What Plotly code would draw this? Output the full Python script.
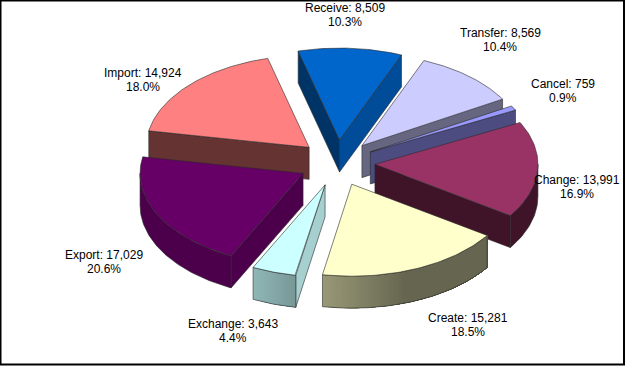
import math
import plotly.graph_objects as go

# --- data ---
categories = ["Receive", "Transfer", "Cancel", "Change", "Create", "Exchange", "Export", "Import"]
values = [8509, 8569, 759, 13991, 15281, 3643, 17029, 14924]

# --- styles ---
top_colors = ["#0066CC", "#CCCCFF", "#9999FF", "#993366", "#FFFFCC", "#CCFFFF", "#660066", "#FF8080"]
wall_left = ["#004C99", "#666680", "#4C4C80", "#3F1428", "#9A9A78", "#90B8B8", "#4C004C", "#663333"]
wall_right = ["#004C99", "#666680", "#4C4C80", "#3F1428", "#666650", "#7A9999", "#4C004C", "#663333"]
gradient_span = [1, 1, 1, 1, 0.45, 1, 1, 1]
start_face = ["#003366", "#666680", "#4C4C80", "#3F1428", "#666650", "#A6D0D0", "#4C004C", "#663333"]
end_face = ["#004C99", "#666680", "#4C4C80", "#3F1428", "#666650", "#A6D0D0", "#4C004C", "#663333"]
draw_order = [0, 1, 2, 3, 7, 4, 5, 6]
label_x = [345, 500, 563, 577, 468, 233, 104, 143]
label_y = [15, 40, 91, 187, 325, 331, 262, 80]

# --- pie geometry (pixel-scale axes) ---
W, H = 633, 373
CX, CY = 337, 163
RX, RY = 163, 92
EX, EY = 38, 23
DEPTH = 32
START = 255.3
EDGE = "#2A2A2A"

total = sum(values)
fig = go.Figure()


def poly(xs, ys, fill, line=EDGE, width=0.6):
    fig.add_trace(go.Scatter(
        x=list(xs) + [xs[0]], y=list(ys) + [ys[0]], mode="lines", fill="toself",
        fillcolor=fill, line=dict(color=line, width=width), hoverinfo="skip", showlegend=False))


def mix(c1, c2, f):
    a = [int(c1[i:i + 2], 16) for i in (1, 3, 5)]
    b = [int(c2[i:i + 2], 16) for i in (1, 3, 5)]
    return "#%02X%02X%02X" % tuple(round(p + (q - p) * f) for p, q in zip(a, b))


spans = []
angle = START
for v in values:
    sweep = v / total * 360
    spans.append((angle, angle + sweep))
    angle += sweep

for i in draw_order:
    t0, t1 = spans[i]
    mid = math.radians((t0 + t1) / 2)
    ax, ay = CX + EX * math.cos(mid), CY + EY * math.sin(mid)

    def pt(t):
        r = math.radians(t)
        return ax + RX * math.cos(r), ay + RY * math.sin(r)

    def face(t, color):
        x, y = pt(t)
        poly([ax, x, x, ax], [ay, y, y + DEPTH, ay + DEPTH], color)

    if math.cos(math.radians(t0)) < 0:
        face(t0, start_face[i])
    if math.cos(math.radians(t1)) > 0:
        face(t1, end_face[i])

    # outer wall, near side only; bands overlap so no seams show
    for k in (0, 360):
        lo, hi = max(t0, k), min(t1, k + 180)
        if hi <= lo:
            continue
        n = max(2, int(hi - lo))
        ts = [lo + (hi - lo) * j / n for j in range(n + 1)]
        px = [pt(t)[0] for t in ts]
        py = [pt(t)[1] for t in ts]
        flat = wall_left[i] == wall_right[i]
        steps = [n] if flat else range(n, 0, -1)
        for j in steps:
            a = ts[j - 1] if not flat else hi
            f = min(1, (t1 - a) / (t1 - t0) / gradient_span[i])
            c = mix(wall_left[i], wall_right[i], f)
            sx, sy = px[:j + 1], py[:j + 1]
            fig.add_trace(go.Scatter(
                x=sx + sx[::-1] + [sx[0]], y=sy + [y + DEPTH for y in sy[::-1]] + [sy[0]],
                mode="lines", fill="toself", fillcolor=c, line=dict(width=0),
                hoverinfo="skip", showlegend=False))
        fig.add_trace(go.Scatter(
            x=px + px[::-1] + [px[0]],
            y=py + [y + DEPTH for y in py[::-1]] + [py[0]],
            mode="lines", line=dict(color=EDGE, width=0.6), hoverinfo="skip", showlegend=False))

    # top surface
    ts = [t0 + (t1 - t0) * j / 60 for j in range(61)]
    poly([ax] + [pt(t)[0] for t in ts], [ay] + [pt(t)[1] for t in ts], top_colors[i])

for name, v, lx, ly in zip(categories, values, label_x, label_y):
    for text, dy in ((f"{name}: {v:,}", -7), (f"{v / total * 100:.1f}%", 7)):
        fig.add_annotation(
            x=lx, y=ly + dy, xref="x", yref="y", text=text,
            showarrow=False, align="center", xanchor="center", yanchor="middle",
            font=dict(family="Liberation Sans", size=12, color="#000000"))

fig.add_shape(type="rect", xref="x", yref="y", x0=0.5, y0=0.5, x1=624, y1=364.5,
              line=dict(color="#000000", width=2), fillcolor="rgba(0,0,0,0)", layer="above")

fig.update_layout(
    width=W, height=H, margin=dict(l=0, r=0, t=0, b=0),
    paper_bgcolor="#FFFFFF", plot_bgcolor="#FFFFFF", showlegend=False,
    xaxis=dict(range=[0, W], visible=False, fixedrange=True),
    yaxis=dict(range=[H, 0], visible=False, fixedrange=True),
)
fig.write_html("out.html", config={"displayModeBar": False, "staticPlot": True},
               post_script="document.body.style.margin='0';document.documentElement.style.overflow='hidden';")
